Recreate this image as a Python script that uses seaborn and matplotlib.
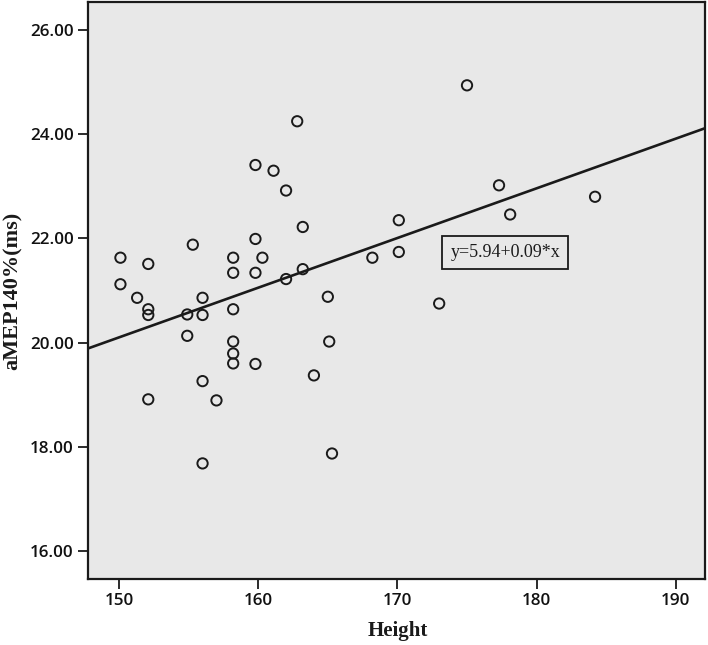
"""
Scatter of aMEP140% against height with a linear fit line
"""
import pandas as pd
import matplotlib
matplotlib.use("Agg")
import matplotlib.pyplot as plt
import seaborn as sns

# values
height = [162.8, 159.8, 161.1, 162.0, 163.2, 170.1, 155.3, 159.8, 150.1, 152.1,
          158.2, 160.3, 158.2, 159.8, 162.0, 163.2, 168.2, 170.1, 150.1, 151.3,
          152.1, 152.1, 154.9, 156.0, 156.0, 158.2, 165.0, 154.9, 158.2, 165.1,
          158.2, 158.2, 159.8, 164.0, 156.0, 152.1, 157.0, 156.0, 165.3, 175.0,
          177.3, 178.1, 184.2, 173.0]
amep = [24.25, 23.41, 23.30, 22.92, 22.22, 22.35, 21.88, 21.99, 21.63, 21.51,
        21.63, 21.63, 21.34, 21.34, 21.22, 21.41, 21.63, 21.74, 21.12, 20.86,
        20.64, 20.53, 20.54, 20.86, 20.53, 20.64, 20.88, 20.13, 20.02, 20.02,
        19.79, 19.60, 19.59, 19.37, 19.26, 18.91, 18.89, 17.68, 17.87, 24.94,
        23.02, 22.46, 22.80, 20.75]
x_ticks = [150, 160, 170, 180, 190]
y_ticks = [16, 18, 20, 22, 24, 26]
# fit line as drawn in the picture (the label shows rounded coefficients)
fit_intercept = 5.79
fit_slope = 0.0954
equation_label = "y=5.94+0.09*x"

df = pd.DataFrame({"Height": height, "aMEP140": amep})

sns.set_theme(style="white")
plt.rcParams["font.family"] = ["Open Sans", "DejaVu Sans"]

fig = plt.figure(figsize=(7.08, 6.45), dpi=100)
ax = fig.add_axes([0.1239, 0.1023, 0.8719, 0.8946])
ax.set_facecolor("#e8e8e8")
ax.set_xlim(147.75, 192.1)
ax.set_ylim(15.46, 26.54)

ax.axline((0, fit_intercept), slope=fit_slope, color="#1a1a1a", linewidth=1.9)
sns.scatterplot(data=df, x="Height", y="aMEP140", ax=ax, marker="o", s=55,
                facecolor="none", edgecolor="#1a1a1a", linewidth=1.4, zorder=3)

ax.set_xticks(x_ticks)
ax.set_yticks(y_ticks)
ax.set_xticklabels([str(t) for t in x_ticks])
ax.set_yticklabels(["%.2f" % t for t in y_ticks])
ax.tick_params(axis="both", direction="out", length=7, width=1.3,
               color="#1a1a1a", labelsize=12.3, labelcolor="#111111", pad=3,
               bottom=True, left=True)
for lab in ax.get_xticklabels() + ax.get_yticklabels():
    lab.set_fontweight("semibold")
for sp in ax.spines.values():
    sp.set_color("#1a1a1a")
    sp.set_linewidth(1.6)

ax.set_xlabel("Height", family="Liberation Serif", fontweight="bold",
              fontsize=15, color="#1a1a1a")
ax.set_ylabel("aMEP140%(ms)", family="Liberation Serif", fontweight="bold",
              fontsize=16, color="#1a1a1a")
ax.xaxis.set_label_coords(0.503, -0.072)
ax.yaxis.set_label_coords(-0.105, 0.5)

ax.text(0.6765, 0.5664, equation_label, transform=ax.transAxes,
        family="Liberation Serif", fontsize=13, color="#1a1a1a",
        ha="center", va="center",
        bbox=dict(boxstyle="square,pad=0.45", facecolor="#e8e8e8",
                  edgecolor="#1a1a1a", linewidth=1.3))

fig.savefig("out.png", dpi=100)
